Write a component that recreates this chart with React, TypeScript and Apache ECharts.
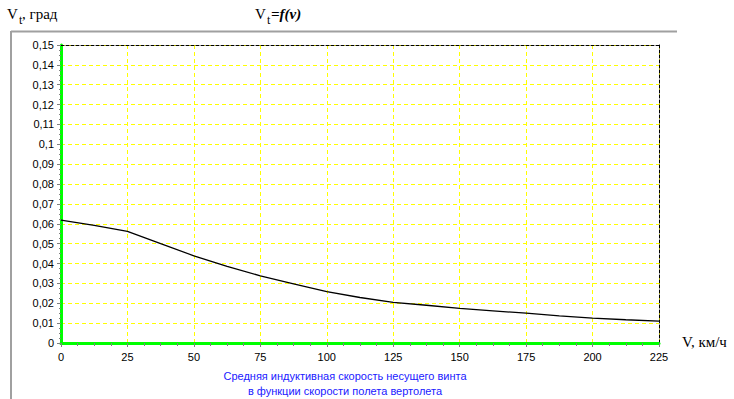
import React, { useEffect, useRef } from "react";
import * as echarts from "echarts";

const speeds = [0, 12.5, 25, 37.5, 50, 62.5, 75, 87.5, 100, 112.5, 125, 137.5, 150, 162.5, 175, 187.5, 200, 212.5, 225];
const inducedVelocity = [0.0618, 0.0592, 0.0562, 0.05, 0.0439, 0.0386, 0.0338, 0.0298, 0.0259, 0.0229, 0.0205, 0.019, 0.0174, 0.0162, 0.015, 0.0137, 0.0125, 0.0117, 0.011];
const xTicks = [0, 25, 50, 75, 100, 125, 150, 175, 200, 225];
const yTicks = [0, 0.01, 0.02, 0.03, 0.04, 0.05, 0.06, 0.07, 0.08, 0.09, 0.1, 0.11, 0.12, 0.13, 0.14, 0.15];
const captionLines = ["Средняя индуктивная скорость несущего винта", "в функции скорости полета вертолета"];

const serif = "'Liberation Serif', 'DejaVu Serif', serif";
const sans = "'Liberation Sans', Arial, sans-serif";

export default function App() {
  const ref = useRef<HTMLDivElement>(null);
  useEffect(() => {
    const chart = echarts.init(ref.current!, null, { renderer: "svg" });
    const fmtY = (v: number) => String(parseFloat(v.toFixed(3))).replace(".", ",");
    chart.setOption({
      animation: false,
      backgroundColor: "#ffffff",
      grid: { left: 61, top: 45, right: 75, bottom: 56, containLabel: false },
      xAxis: [
        {
          type: "value",
          min: xTicks[0],
          max: xTicks[xTicks.length - 1],
          interval: 25,
          axisLine: { show: true, onZero: false, lineStyle: { color: "#00ff00", width: 3 } },
          axisTick: { show: true, length: 4, lineStyle: { color: "#808080", width: 1 } },
          minorTick: { show: true, splitNumber: 4, length: 3, lineStyle: { color: "#808080", width: 1 } },
          axisLabel: { color: "#000", fontFamily: sans, fontSize: 11, margin: 8 },
          splitLine: { show: true, lineStyle: { color: "#ffff00", type: [4, 3], width: 1 } },
        },
        {
          type: "value",
          position: "top",
          min: xTicks[0],
          max: xTicks[xTicks.length - 1],
          interval: 25,
          axisLine: { show: true, onZero: false, lineStyle: { color: "#000", width: 1, type: [3, 2] } },
          axisTick: { show: false },
          axisLabel: { show: false },
          splitLine: { show: false },
        },
      ],
      yAxis: [
        {
          type: "value",
          min: yTicks[0],
          max: yTicks[yTicks.length - 1],
          interval: 0.01,
          axisLine: { show: true, onZero: false, lineStyle: { color: "#00ff00", width: 3 } },
          axisTick: { show: true, length: 4, lineStyle: { color: "#808080", width: 1 } },
          minorTick: { show: true, splitNumber: 4, length: 2, lineStyle: { color: "#808080", width: 1 } },
          axisLabel: { color: "#000", fontFamily: sans, fontSize: 11, margin: 7, formatter: fmtY },
          splitLine: { show: true, lineStyle: { color: "#ffff00", type: [4, 3], width: 1 } },
        },
        {
          type: "value",
          position: "right",
          min: yTicks[0],
          max: yTicks[yTicks.length - 1],
          interval: 0.01,
          axisLine: { show: true, onZero: false, lineStyle: { color: "#000", width: 1, type: [3, 2] } },
          axisTick: { show: false },
          axisLabel: { show: false },
          splitLine: { show: false },
        },
      ],
      series: [
        {
          type: "line",
          data: speeds.map((s, i) => [s, inducedVelocity[i]]),
          showSymbol: false,
          symbol: "none",
          lineStyle: { color: "#000", width: 1.3 },
          z: 5,
        },
      ],
      graphic: [
        { type: "line", shape: { x1: 11, y1: 31.5, x2: 677, y2: 31.5 }, style: { stroke: "#a0a0a0", lineWidth: 2 } },
        { type: "line", shape: { x1: 11, y1: 31, x2: 11, y2: 399 }, style: { stroke: "#a0a0a0", lineWidth: 2 } },
        { type: "text", x: 7, y: 6, style: { text: "V", font: `15px ${serif}`, fill: "#000" } },
        { type: "text", x: 19, y: 14, style: { text: "t", font: `12px ${serif}`, fill: "#000" } },
        { type: "text", x: 22, y: 6, style: { text: ", град", font: `15px ${serif}`, fill: "#000" } },
        { type: "text", x: 255, y: 6, style: { text: "V", font: `15px ${serif}`, fill: "#000" } },
        { type: "text", x: 267, y: 14, style: { text: "t", font: `12px ${serif}`, fill: "#000" } },
        { type: "text", x: 271, y: 6, style: { text: "=f(v)", font: `italic bold 15px ${serif}`, fill: "#000" } },
        { type: "text", x: 682, y: 334, style: { text: "V, км/ч", font: `15px ${serif}`, fill: "#000" } },
        {
          type: "text",
          x: 345,
          y: 368,
          style: {
            text: captionLines.join("\n"),
            font: `11px ${sans}`,
            fill: "#2020ff",
            align: "center",
            lineHeight: 15,
          },
        },
      ],
    });
    return () => chart.dispose();
  }, []);
  return <div ref={ref} style={{ width: 734, height: 399, position: "absolute", left: 0, top: 0 }} />;
}
